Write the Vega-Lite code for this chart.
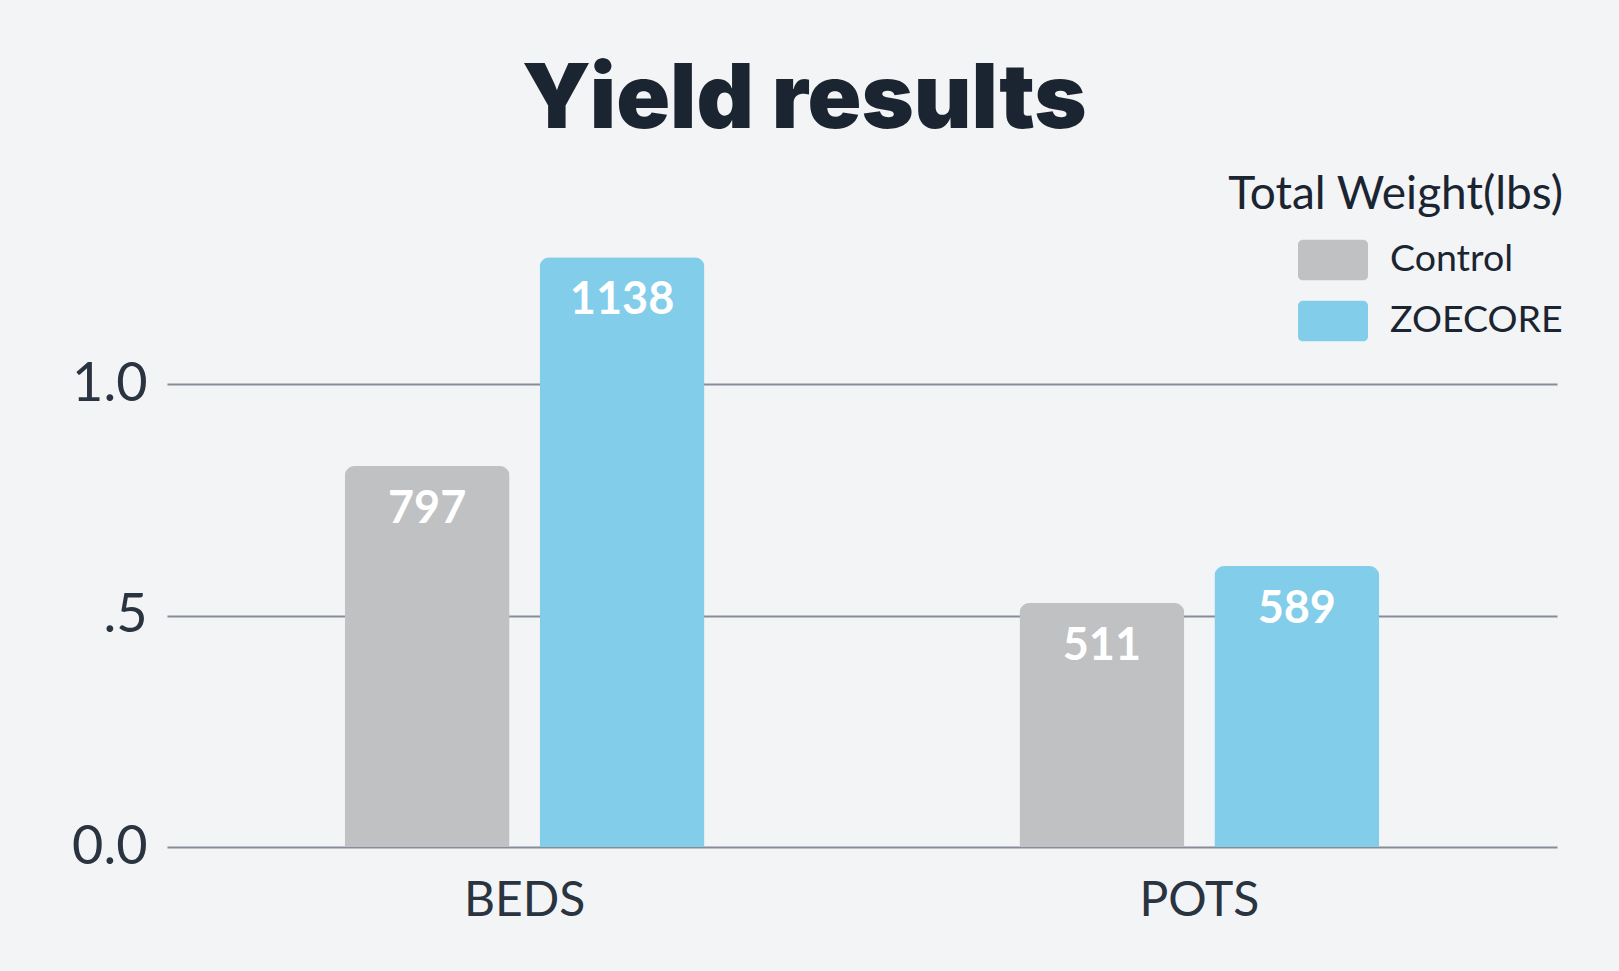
{
  "$schema": "https://vega.github.io/schema/vega-lite/v6.json",
  "width": 1390,
  "height": 648,
  "autosize": {"type": "none"},
  "padding": {"left": 167, "top": 199, "right": 62, "bottom": 124},
  "background": "#f3f4f6",
  "title": {
    "text": "Yield results",
    "anchor": "middle",
    "frame": "bounds",
    "font": "Inter",
    "fontSize": 89,
    "fontWeight": 900,
    "color": "#1b2431",
    "offset": 26,
    "dx": -13
  },
  "data": {
    "values": [
      {"site": "BEDS", "group": "Control", "value": 0.823, "weight": 797},
      {"site": "BEDS", "group": "ZOECORE", "value": 1.274, "weight": 1138},
      {"site": "POTS", "group": "Control", "value": 0.527, "weight": 511},
      {"site": "POTS", "group": "ZOECORE", "value": 0.607, "weight": 589}
    ]
  },
  "encoding": {
    "x": {
      "field": "site",
      "type": "nominal",
      "title": null,
      "scale": {"paddingInner": 0, "paddingOuter": 0.03},
      "axis": {
        "labelAngle": 0,
        "domain": false,
        "ticks": false,
        "labelFont": "Lato",
        "labelFontSize": 48,
        "labelColor": "#2a3340",
        "labelPadding": 30
      }
    },
    "xOffset": {
      "field": "group",
      "type": "nominal",
      "scale": {"paddingInner": 0.154, "paddingOuter": 0.808}
    },
    "y": {
      "field": "value",
      "type": "quantitative",
      "title": null,
      "scale": {"domain": [0, 1.4], "nice": false},
      "axis": {
        "values": [0, 0.5, 1],
        "labelExpr": "datum.value == 0 ? '0.0' : datum.value == 0.5 ? '.5' : '1.0'",
        "grid": true,
        "gridColor": "#868c98",
        "gridWidth": 2,
        "domain": false,
        "ticks": false,
        "labelFont": "Lato",
        "labelFontSize": 54,
        "labelColor": "#2a3340",
        "labelPadding": 20
      }
    }
  },
  "layer": [
    {
      "mark": {"type": "bar", "cornerRadiusTopLeft": 10, "cornerRadiusTopRight": 10},
      "encoding": {
        "color": {
          "field": "group",
          "type": "nominal",
          "scale": {"domain": ["Control", "ZOECORE"], "range": ["#c0c1c3", "#82cdea"]},
          "legend": {
            "title": "Total Weight(lbs)",
            "orient": "none",
            "legendX": 1043,
            "legendY": -26,
            "titleAnchor": "end",
            "titleLimit": 600,
            "titleFont": "Lato",
            "titleFontSize": 46,
            "titleFontWeight": "normal",
            "titleColor": "#1b2431",
            "titlePadding": 6,
            "labelFont": "Lato",
            "labelFontSize": 37.5,
            "labelLimit": 400,
            "labelColor": "#1b2431",
            "labelOffset": 22,
            "symbolType": "M-0.86,-0.58H0.86A0.14,0.14,0,0,1,1,-0.44V0.44A0.14,0.14,0,0,1,0.86,0.58H-0.86A0.14,0.14,0,0,1,-1,0.44V-0.44A0.14,0.14,0,0,1,-0.86,-0.58Z",
            "symbolSize": 4900,
            "symbolStrokeWidth": 0,
            "symbolOpacity": 1,
            "symbolOffset": 88,
            "rowPadding": 5
          }
        }
      }
    },
    {
      "mark": {
        "type": "text",
        "dy": 43,
        "baseline": "middle",
        "color": "white",
        "font": "Lato",
        "fontSize": 45,
        "fontWeight": "bold"
      },
      "encoding": {
        "text": {"field": "weight", "type": "quantitative"}
      }
    }
  ],
  "config": {
    "view": {"stroke": null}
  }
}
